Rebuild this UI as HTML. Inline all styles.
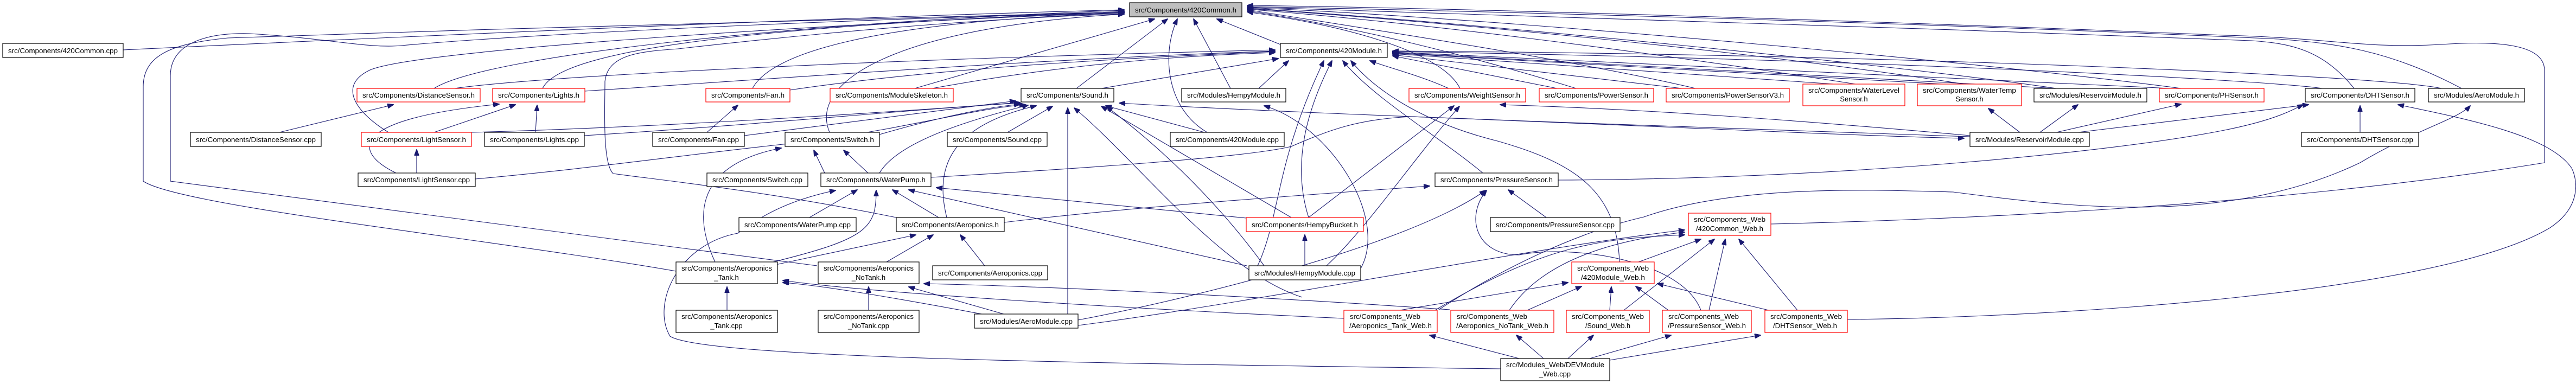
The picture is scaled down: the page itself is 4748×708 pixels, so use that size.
<!DOCTYPE html>
<html><head><meta charset="utf-8"><style>
html,body{margin:0;padding:0;background:#fff;}
svg{display:block;}
text{font-family:"Liberation Sans",sans-serif;font-size:13px;fill:#000;}
.e{fill:none;stroke:#191970;stroke-width:1.1;marker-end:url(#a);}
</style></head><body>
<svg width="4748" height="708" viewBox="0 0 4748 708" xmlns="http://www.w3.org/2000/svg">
<defs><marker id="a" markerUnits="userSpaceOnUse" markerWidth="12" markerHeight="9" refX="11" refY="4.5" orient="auto"><path d="M0,0 L12,4.5 L0,9 z" fill="#191970" stroke="#191970"/></marker></defs>
<rect width="4748" height="708" fill="#fff"/>
<g>
<!-- to 420Common.h -->
<path class="e" d="M227,92 C900,60 1600,30 2072,18"/>
<path class="e" d="M800,163 C900,100 1500,40 2072,19"/>
<path class="e" d="M1000,163 C1040,80 1500,45 2072,21"/>
<path class="e" d="M716,244 C660,210 620,160 680,130 C760,90 1600,40 2072,23"/>
<path class="e" d="M1387,163 C1420,100 1600,40 2072,24"/>
<path class="e" d="M1529,244 C1490,150 1650,50 2072,26"/>
<path class="e" d="M1686,163 L2128,35"/>
<path class="e" d="M1984,163 L2152,35"/>
<path class="e" d="M2225,244 C2150,200 2140,100 2170,35"/>
<path class="e" d="M2268,163 L2200,35"/>
<path class="e" d="M2360,82 L2243,35"/>
<path class="e" d="M1246,500 C900,440 330,380 264,334 L264,160 C264,100 320,80 420,70 C1000,50 1700,30 2072,22"/>
<path class="e" d="M1506,490 L314,334 L314,140 C314,80 380,60 460,62 C600,70 680,90 740,84 C1000,60 1700,30 2072,24"/>
<path class="e" d="M1652,401 C1400,350 1200,330 1130,320 C1110,300 1115,200 1115,150 C1120,100 1180,95 1250,90 C1600,50 1900,30 2072,26"/>
<path class="e" d="M2691,163 C2660,100 2500,50 2299,22"/>
<path class="e" d="M2905,163 C2700,100 2500,50 2299,20"/>
<path class="e" d="M3125,163 C2900,110 2500,50 2299,18"/>
<path class="e" d="M3420,155 C3000,90 2600,40 2299,17"/>
<path class="e" d="M3620,155 C3200,90 2600,35 2299,16"/>
<path class="e" d="M3790,163 C3500,120 2700,40 2299,15"/>
<path class="e" d="M4020,163 C3700,120 2800,35 2299,14"/>
<path class="e" d="M4339,163 C4280,90 4220,80 4150,75 C3500,50 2700,25 2299,13"/>
<path class="e" d="M4537,163 C4400,90 4300,80 4200,72 C3500,40 2700,20 2299,12"/>
<path class="e" d="M3264,413 C3600,405 4200,380 4690,300 L4690,130 C4690,80 4600,75 4500,82 C4350,90 4300,70 4100,65 C3500,40 2700,15 2299,10"/>
<!-- to 420Module.h -->
<path class="e" d="M838,163 C1000,140 1600,110 2350,92"/>
<path class="e" d="M1078,168 C1500,140 1900,110 2350,94"/>
<path class="e" d="M1456,166 C1700,130 2000,110 2350,95"/>
<path class="e" d="M1718,163 C1900,130 2100,105 2350,97"/>
<path class="e" d="M2030,163 L2356,108"/>
<path class="e" d="M2320,163 L2375,112"/>
<path class="e" d="M2670,163 C2620,140 2560,125 2525,112"/>
<path class="e" d="M2870,163 L2567,103"/>
<path class="e" d="M3100,163 L2567,101"/>
<path class="e" d="M3380,155 L2567,99"/>
<path class="e" d="M3580,155 L2567,98"/>
<path class="e" d="M3790,163 L2567,97"/>
<path class="e" d="M4000,163 L2567,96"/>
<path class="e" d="M4280,163 C4200,150 3500,110 2567,95"/>
<path class="e" d="M4500,163 C4400,140 3500,100 2567,94"/>
<path class="e" d="M2412,401 C2380,300 2410,200 2455,112"/>
<path class="e" d="M2318,490 C2360,400 2350,300 2440,112"/>
<path class="e" d="M2733,319 C2650,250 2530,180 2475,112"/>
<path class="e" d="M2985,483 C2980,350 2900,300 2760,260 C2600,220 2520,150 2490,112"/>
<!-- to Sound.h -->
<path class="e" d="M1372,250 C1600,220 1800,195 1872,186"/>
<path class="e" d="M1621,248 C1700,225 1800,200 1880,192"/>
<path class="e" d="M869,244 C1200,235 1600,210 1880,189"/>
<path class="e" d="M1077,250 C1400,230 1700,200 1880,190"/>
<path class="e" d="M876,330 C1100,310 1300,280 1500,260 C1700,230 1800,200 1890,193"/>
<path class="e" d="M1621,319 C1650,270 1750,230 1895,194"/>
<path class="e" d="M1745,401 C1720,300 1760,230 1910,195"/>
<path class="e" d="M1857,244 L1940,196"/>
<path class="e" d="M2220,244 L2038,195"/>
<path class="e" d="M1968,579 C1968,450 1968,300 1968,199"/>
<path class="e" d="M2380,401 L2030,196"/>
<path class="e" d="M2330,490 C2250,380 2150,280 2040,197"/>
<path class="e" d="M2400,548 C2250,500 2100,300 1980,199"/>
<path class="e" d="M3631,252 C3000,230 2400,210 2063,190"/>
<!-- Switch.h -->
<path class="e" d="M1520,319 L1500,277"/>
<path class="e" d="M1600,319 L1555,277"/>
<path class="e" d="M1318,483 C1270,380 1300,300 1440,273"/>
<!-- WaterPump.h -->
<path class="e" d="M1492,401 L1580,350"/>
<path class="e" d="M1730,401 L1645,350"/>
<path class="e" d="M1425,483 C1600,440 1615,420 1615,351"/>
<path class="e" d="M2297,402 L1726,346"/>
<path class="e" d="M2298,490 L1675,350"/>
<path class="e" d="M2766,680 C2000,670 1300,660 1235,620 C1200,560 1250,450 1360,430 C1400,400 1450,370 1540,351"/>
<path class="e" d="M1716,327 C2000,310 2300,290 2380,270 C2450,240 2500,220 2600,215 C3000,230 3400,250 3620,255"/>
<!-- Aeroponics.h -->
<path class="e" d="M1815,490 L1770,433"/>
<path class="e" d="M1634,483 L1720,433"/>
<path class="e" d="M1430,488 L1688,433"/>
<path class="e" d="M1851,410 C2100,380 2400,360 2635,343"/>
<!-- Aeroponics_Tank / NoTank -->
<path class="e" d="M1340,572 L1340,529"/>
<path class="e" d="M1815,580 C1600,540 1500,525 1443,521"/>
<path class="e" d="M2477,587 C2100,570 1600,540 1443,517"/>
<path class="e" d="M1601,572 L1601,529"/>
<path class="e" d="M1850,579 L1675,529"/>
<path class="e" d="M2672,571 C2300,545 1900,527 1703,523"/>
<!-- HempyBucket / WeightSensor / HempyModule.h -->
<path class="e" d="M2405,490 L2405,433"/>
<path class="e" d="M2412,401 L2680,195"/>
<path class="e" d="M2445,490 C2520,420 2600,300 2690,196"/>
<path class="e" d="M3631,250 C3300,220 3000,200 2765,193"/>
<path class="e" d="M2508,495 C2560,400 2450,230 2330,195"/>
<!-- PressureSensor.h -->
<path class="e" d="M2850,401 L2780,350"/>
<path class="e" d="M1987,590 C2200,550 2600,450 2738,351"/>
<path class="e" d="M3135,572 C3100,480 2900,450 2800,470 C2720,470 2700,400 2740,351"/>
<path class="e" d="M2872,332 C3400,330 3900,280 4100,240 C4200,220 4230,200 4245,193"/>
<!-- 420Common_Web.h -->
<path class="e" d="M3020,483 L3135,441"/>
<path class="e" d="M2993,572 L3160,441"/>
<path class="e" d="M3150,572 L3180,441"/>
<path class="e" d="M3313,572 L3205,441"/>
<path class="e" d="M2645,572 C2850,450 2950,440 3105,433"/>
<path class="e" d="M2782,572 C2850,470 3000,440 3105,428"/>
<path class="e" d="M1987,600 C2300,560 2800,460 3105,424"/>
<!-- 420Module_Web.h -->
<path class="e" d="M2580,572 L2890,521"/>
<path class="e" d="M2815,572 L2915,528"/>
<path class="e" d="M2967,572 L2970,529"/>
<path class="e" d="M3075,572 L3015,528"/>
<path class="e" d="M3260,572 L3055,523"/>
<!-- DEVModule_Web.cpp -->
<path class="e" d="M2800,661 L2635,618"/>
<path class="e" d="M2845,661 L2795,618"/>
<path class="e" d="M2890,661 L2937,618"/>
<path class="e" d="M2930,661 L3080,618"/>
<path class="e" d="M2967,664 L3245,618"/>
<!-- long right loops -->
<path class="e" d="M3405,589 C3800,585 4500,540 4700,420 C4760,380 4750,330 4740,310 C4700,250 4550,220 4420,193"/>
<path class="e" d="M2652,571 C2760,500 2900,430 3030,400 C3200,340 3450,350 3600,354 C3800,380 4100,420 4350,300 C4450,240 4530,220 4553,195"/>
<!-- reservoir / dht -->
<path class="e" d="M3723,244 L3665,200"/>
<path class="e" d="M3760,244 L3830,193"/>
<path class="e" d="M3790,244 L4020,192"/>
<path class="e" d="M3830,244 L4255,193"/>
<path class="e" d="M4350,244 L4350,195"/>
<!-- left cluster -->
<path class="e" d="M515,244 L725,193"/>
<path class="e" d="M800,244 L950,193"/>
<path class="e" d="M987,244 L990,194"/>
<path class="e" d="M730,319 C650,280 640,220 920,192"/>
<path class="e" d="M768,319 L768,276"/>
<path class="e" d="M1303,244 L1360,194"/>
</g>
<g stroke-width="1.2">
<!-- nodes -->
<rect x="2082" y="5" width="207" height="26" fill="#bfbfbf" stroke="#000"/><text x="2092" y="23" textLength="187" lengthAdjust="spacingAndGlyphs">src/Components/420Common.h</text>
<rect x="5" y="80" width="222" height="26" fill="#fff" stroke="#000"/><text x="15" y="98" textLength="202" lengthAdjust="spacingAndGlyphs">src/Components/420Common.cpp</text>
<rect x="2360" y="80" width="197" height="26" fill="#fff" stroke="#000"/><text x="2370" y="98" textLength="177" lengthAdjust="spacingAndGlyphs">src/Components/420Module.h</text>
<rect x="658" y="163" width="227" height="25" fill="#fff" stroke="#f00"/><text x="668" y="180" textLength="207" lengthAdjust="spacingAndGlyphs">src/Components/DistanceSensor.h</text>
<rect x="908" y="163" width="170" height="25" fill="#fff" stroke="#f00"/><text x="918" y="180" textLength="150" lengthAdjust="spacingAndGlyphs">src/Components/Lights.h</text>
<rect x="1301" y="163" width="155" height="25" fill="#fff" stroke="#f00"/><text x="1311" y="180" textLength="135" lengthAdjust="spacingAndGlyphs">src/Components/Fan.h</text>
<rect x="1530" y="163" width="227" height="25" fill="#fff" stroke="#f00"/><text x="1540" y="180" textLength="207" lengthAdjust="spacingAndGlyphs">src/Components/ModuleSkeleton.h</text>
<rect x="1882" y="163" width="171" height="25" fill="#fff" stroke="#000"/><text x="1892" y="180" textLength="151" lengthAdjust="spacingAndGlyphs">src/Components/Sound.h</text>
<rect x="2178" y="163" width="192" height="25" fill="#fff" stroke="#000"/><text x="2188" y="180" textLength="172" lengthAdjust="spacingAndGlyphs">src/Modules/HempyModule.h</text>
<rect x="2597" y="163" width="215" height="25" fill="#fff" stroke="#f00"/><text x="2607" y="180" textLength="195" lengthAdjust="spacingAndGlyphs">src/Components/WeightSensor.h</text>
<rect x="2837" y="163" width="211" height="25" fill="#fff" stroke="#f00"/><text x="2847" y="180" textLength="191" lengthAdjust="spacingAndGlyphs">src/Components/PowerSensor.h</text>
<rect x="3071" y="163" width="227" height="25" fill="#fff" stroke="#f00"/><text x="3081" y="180" textLength="207" lengthAdjust="spacingAndGlyphs">src/Components/PowerSensorV3.h</text>
<rect x="3323" y="155" width="188" height="40" fill="#fff" stroke="#f00"/><text x="3333" y="171" textLength="168" lengthAdjust="spacingAndGlyphs">src/Components/WaterLevel</text><text x="3417" y="187" text-anchor="middle">Sensor.h</text>
<rect x="3534" y="155" width="192" height="40" fill="#fff" stroke="#f00"/><text x="3544" y="171" textLength="172" lengthAdjust="spacingAndGlyphs">src/Components/WaterTemp</text><text x="3630" y="187" text-anchor="middle">Sensor.h</text>
<rect x="3749" y="163" width="208" height="25" fill="#fff" stroke="#000"/><text x="3759" y="180" textLength="188" lengthAdjust="spacingAndGlyphs">src/Modules/ReservoirModule.h</text>
<rect x="3980" y="163" width="193" height="25" fill="#fff" stroke="#f00"/><text x="3990" y="180" textLength="173" lengthAdjust="spacingAndGlyphs">src/Components/PHSensor.h</text>
<rect x="4249" y="163" width="202" height="25" fill="#fff" stroke="#000"/><text x="4259" y="180" textLength="182" lengthAdjust="spacingAndGlyphs">src/Components/DHTSensor.h</text>
<rect x="4476" y="163" width="177" height="25" fill="#fff" stroke="#000"/><text x="4486" y="180" textLength="157" lengthAdjust="spacingAndGlyphs">src/Modules/AeroModule.h</text>
<rect x="351" y="244" width="241" height="26" fill="#fff" stroke="#000"/><text x="361" y="262" textLength="221" lengthAdjust="spacingAndGlyphs">src/Components/DistanceSensor.cpp</text>
<rect x="666" y="244" width="203" height="26" fill="#fff" stroke="#f00"/><text x="676" y="262" textLength="183" lengthAdjust="spacingAndGlyphs">src/Components/LightSensor.h</text>
<rect x="893" y="244" width="184" height="26" fill="#fff" stroke="#000"/><text x="903" y="262" textLength="164" lengthAdjust="spacingAndGlyphs">src/Components/Lights.cpp</text>
<rect x="1203" y="244" width="169" height="26" fill="#fff" stroke="#000"/><text x="1213" y="262" textLength="149" lengthAdjust="spacingAndGlyphs">src/Components/Fan.cpp</text>
<rect x="1447" y="244" width="174" height="26" fill="#fff" stroke="#000"/><text x="1457" y="262" textLength="154" lengthAdjust="spacingAndGlyphs">src/Components/Switch.h</text>
<rect x="1746" y="244" width="184" height="26" fill="#fff" stroke="#000"/><text x="1756" y="262" textLength="164" lengthAdjust="spacingAndGlyphs">src/Components/Sound.cpp</text>
<rect x="2157" y="244" width="210" height="26" fill="#fff" stroke="#000"/><text x="2167" y="262" textLength="190" lengthAdjust="spacingAndGlyphs">src/Components/420Module.cpp</text>
<rect x="3631" y="244" width="220" height="26" fill="#fff" stroke="#000"/><text x="3641" y="262" textLength="200" lengthAdjust="spacingAndGlyphs">src/Modules/ReservoirModule.cpp</text>
<rect x="4242" y="244" width="216" height="26" fill="#fff" stroke="#000"/><text x="4252" y="262" textLength="196" lengthAdjust="spacingAndGlyphs">src/Components/DHTSensor.cpp</text>
<rect x="660" y="319" width="216" height="25" fill="#fff" stroke="#000"/><text x="670" y="336" textLength="196" lengthAdjust="spacingAndGlyphs">src/Components/LightSensor.cpp</text>
<rect x="1303" y="319" width="186" height="25" fill="#fff" stroke="#000"/><text x="1313" y="336" textLength="166" lengthAdjust="spacingAndGlyphs">src/Components/Switch.cpp</text>
<rect x="1513" y="319" width="203" height="25" fill="#fff" stroke="#000"/><text x="1523" y="336" textLength="183" lengthAdjust="spacingAndGlyphs">src/Components/WaterPump.h</text>
<rect x="2645" y="319" width="227" height="25" fill="#fff" stroke="#000"/><text x="2655" y="336" textLength="207" lengthAdjust="spacingAndGlyphs">src/Components/PressureSensor.h</text>
<rect x="1362" y="401" width="216" height="26" fill="#fff" stroke="#000"/><text x="1372" y="419" textLength="196" lengthAdjust="spacingAndGlyphs">src/Components/WaterPump.cpp</text>
<rect x="1652" y="401" width="199" height="26" fill="#fff" stroke="#000"/><text x="1662" y="419" textLength="179" lengthAdjust="spacingAndGlyphs">src/Components/Aeroponics.h</text>
<rect x="2297" y="401" width="216" height="26" fill="#fff" stroke="#f00"/><text x="2307" y="419" textLength="196" lengthAdjust="spacingAndGlyphs">src/Components/HempyBucket.h</text>
<rect x="2747" y="401" width="239" height="26" fill="#fff" stroke="#000"/><text x="2757" y="419" textLength="219" lengthAdjust="spacingAndGlyphs">src/Components/PressureSensor.cpp</text>
<rect x="3112" y="393" width="152" height="41" fill="#fff" stroke="#f00"/><text x="3122" y="409" textLength="132" lengthAdjust="spacingAndGlyphs">src/Components_Web</text><text x="3126" y="426" textLength="124" lengthAdjust="spacingAndGlyphs">/420Common_Web.h</text>
<rect x="1246" y="483" width="187" height="40" fill="#fff" stroke="#000"/><text x="1256" y="499" textLength="167" lengthAdjust="spacingAndGlyphs">src/Components/Aeroponics</text><text x="1339" y="516" text-anchor="middle">_Tank.h</text>
<rect x="1508" y="483" width="186" height="40" fill="#fff" stroke="#000"/><text x="1518" y="499" textLength="166" lengthAdjust="spacingAndGlyphs">src/Components/Aeroponics</text><text x="1601" y="516" text-anchor="middle">_NoTank.h</text>
<rect x="1719" y="490" width="212" height="26" fill="#fff" stroke="#000"/><text x="1729" y="508" textLength="192" lengthAdjust="spacingAndGlyphs">src/Components/Aeroponics.cpp</text>
<rect x="2302" y="490" width="206" height="26" fill="#fff" stroke="#000"/><text x="2312" y="508" textLength="186" lengthAdjust="spacingAndGlyphs">src/Modules/HempyModule.cpp</text>
<rect x="2897" y="483" width="152" height="40" fill="#fff" stroke="#f00"/><text x="2907" y="499" textLength="132" lengthAdjust="spacingAndGlyphs">src/Components_Web</text><text x="2914" y="516" textLength="118" lengthAdjust="spacingAndGlyphs">/420Module_Web.h</text>
<rect x="1246" y="572" width="187" height="41" fill="#fff" stroke="#000"/><text x="1256" y="588" textLength="167" lengthAdjust="spacingAndGlyphs">src/Components/Aeroponics</text><text x="1339" y="605" text-anchor="middle">_Tank.cpp</text>
<rect x="1508" y="572" width="186" height="41" fill="#fff" stroke="#000"/><text x="1518" y="588" textLength="166" lengthAdjust="spacingAndGlyphs">src/Components/Aeroponics</text><text x="1601" y="605" text-anchor="middle">_NoTank.cpp</text>
<rect x="1796" y="579" width="191" height="26" fill="#fff" stroke="#000"/><text x="1806" y="597" textLength="171" lengthAdjust="spacingAndGlyphs">src/Modules/AeroModule.cpp</text>
<rect x="2477" y="572" width="172" height="41" fill="#fff" stroke="#f00"/><text x="2488" y="588" textLength="130" lengthAdjust="spacingAndGlyphs">src/Components_Web</text><text x="2487" y="605" textLength="152" lengthAdjust="spacingAndGlyphs">/Aeroponics_Tank_Web.h</text>
<rect x="2674" y="572" width="190" height="41" fill="#fff" stroke="#f00"/><text x="2685" y="588" textLength="130" lengthAdjust="spacingAndGlyphs">src/Components_Web</text><text x="2684" y="605" textLength="170" lengthAdjust="spacingAndGlyphs">/Aeroponics_NoTank_Web.h</text>
<rect x="2887" y="572" width="153" height="41" fill="#fff" stroke="#f00"/><text x="2897" y="588" textLength="133" lengthAdjust="spacingAndGlyphs">src/Components_Web</text><text x="2922" y="605" textLength="83" lengthAdjust="spacingAndGlyphs">/Sound_Web.h</text>
<rect x="3064" y="572" width="164" height="41" fill="#fff" stroke="#f00"/><text x="3075" y="588" textLength="130" lengthAdjust="spacingAndGlyphs">src/Components_Web</text><text x="3074" y="605" textLength="144" lengthAdjust="spacingAndGlyphs">/PressureSensor_Web.h</text>
<rect x="3253" y="572" width="152" height="41" fill="#fff" stroke="#f00"/><text x="3263" y="588" textLength="132" lengthAdjust="spacingAndGlyphs">src/Components_Web</text><text x="3268" y="605" textLength="118" lengthAdjust="spacingAndGlyphs">/DHTSensor_Web.h</text>
<rect x="2766" y="661" width="201" height="41" fill="#fff" stroke="#000"/><text x="2776" y="677" textLength="181" lengthAdjust="spacingAndGlyphs">src/Modules_Web/DEVModule</text><text x="2866" y="694" text-anchor="middle">_Web.cpp</text>
</g>
</svg>
</body></html>
